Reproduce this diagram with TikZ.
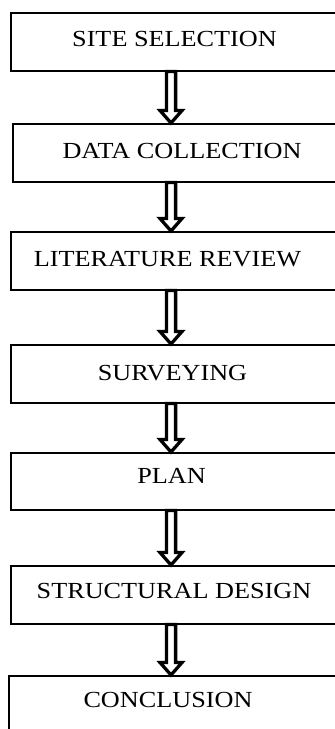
\documentclass[tikz,border=0pt]{standalone}
\usepackage{fontspec}
\setmainfont[FakeStretch=1.14]{Liberation Serif}
\usetikzlibrary{calc}
\newcommand\hollowarrow[2]{%
  \draw[harrow] ($(#1)+(-4.6,0)$) -- ($(#2)+(-4.6,12.5)$) -- ($(#2)+(-11,12.5)$) -- (#2)
    -- ($(#2)+(11,12.5)$) -- ($(#2)+(4.6,12.5)$) -- ($(#1)+(4.6,0)$) -- cycle;}
\begin{document}
\begin{tikzpicture}[x=1pt,y=1pt,
  box/.style={draw, line width=1.5pt, minimum width=345pt, anchor=north west, inner sep=0pt},
  lbl/.style={anchor=base, font=\fontsize{23}{27}\selectfont, inner sep=0pt},
  harrow/.style={draw, line width=3.3pt, line join=miter}]
\useasboundingbox (0,0) rectangle (335,-729);
\node[box, minimum height=58pt] (b1) at (10,-12) {};
\node[box, minimum height=58pt] (b2) at (12,-123) {};
\node[box, minimum height=58pt] (b3) at (10,-231) {};
\node[box, minimum height=58pt] (b4) at (10,-344) {};
\node[box, minimum height=57pt] (b5) at (10,-452) {};
\node[box, minimum height=58pt] (b6) at (10,-565) {};
\node[box, minimum height=85pt] (b7) at (8,-675) {};
\node[lbl] (t1) at (174.5,-46.7) {SITE SELECTION};
\node[lbl] (t2) at (182,-158) {DATA COLLECTION};
\node[lbl] (t3) at (167.5,-266) {LITERATURE REVIEW};
\node[lbl] (t4) at (172.5,-380) {SURVEYING};
\node[lbl] (t5) at (171.5,-483.3) {PLAN};
\node[lbl] (t6) at (174,-598.3) {STRUCTURAL DESIGN};
\node[lbl] (t7) at (168,-707) {CONCLUSION};
\coordinate (ax) at (171,0);
\foreach \i/\j in {1/2,2/3,3/4,4/5,5/6,6/7} {
  \coordinate (s\i) at (b\i.south -| ax);
  \coordinate (e\i) at (b\j.north -| ax);
  \hollowarrow{s\i}{e\i}
}
\end{tikzpicture}
\end{document}
